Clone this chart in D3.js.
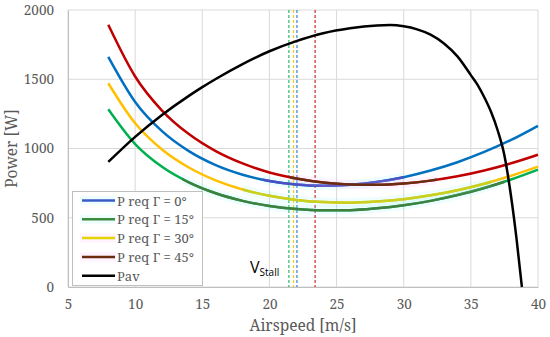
<!DOCTYPE html>
<html>
<head>
<meta charset="utf-8">
<script src="https://cdn.jsdelivr.net/npm/d3@7"></script>
<style>
  body { margin: 0; background: #fff; }
</style>
</head>
<body>
<div id="wrapper"></div>
<script>
// airspeed samples for the P req curves [m/s]
const speeds = [8, 10, 12, 14, 16, 18, 20, 22, 24, 26, 28, 30, 32, 34, 36, 38, 40]
const preq0  = [1661, 1336, 1125, 981, 880, 811, 766, 740, 731, 738, 759, 793, 841, 901, 975, 1062, 1164]
const preq15 = [1283, 1032, 868, 756, 677, 622, 585, 563, 554, 555, 568, 590, 622, 664, 715, 776, 847]
const preq30 = [1471, 1182, 993, 863, 770, 704, 659, 629, 613, 609, 617, 634, 662, 699, 746, 803, 869]
const preq45 = [1893, 1520, 1274, 1104, 981, 892, 827, 783, 754, 740, 738, 747, 768, 799, 841, 893, 955]

// available power
const pavSpeeds = [8, 10, 12, 14, 15, 16, 18, 20, 22, 24, 26, 28, 29, 30, 31, 32, 33, 34, 35, 35.5, 36, 36.5, 37, 37.5, 38, 38.4, 38.8]
const pav       = [903, 1084, 1242, 1380, 1443, 1502, 1610, 1702, 1775, 1832, 1868, 1888, 1891, 1882, 1860, 1822, 1758, 1665, 1530, 1460, 1370, 1265, 1130, 950, 650, 350, 0]

// stall speeds
const stallSpeeds = [21.45, 21.8, 22.05, 23.4]

const seriesNames = ["P req \u0393 = 0\u00b0", "P req \u0393 = 15\u00b0", "P req \u0393 = 30\u00b0", "P req \u0393 = 45\u00b0", "Pav"]
const xTicks = [5, 10, 15, 20, 25, 30, 35, 40]
const yTicks = [0, 500, 1000, 1500, 2000]

const serif = "Noto Serif"
const width = 550, height = 337
const margin = {top: 10, right: 12, bottom: 50, left: 68}

const svg = d3.select("#wrapper").append("svg")
  .attr("width", width)
  .attr("height", height)

const x = d3.scaleLinear().domain([5, 40]).range([margin.left, width - margin.right])
const y = d3.scaleLinear().domain([0, 2000]).range([height - margin.bottom, margin.top])

// grid
svg.append("g").selectAll("line").data(xTicks).enter().append("line")
  .attr("x1", d => x(d)).attr("x2", d => x(d))
  .attr("y1", y(0)).attr("y2", y(2000))
  .attr("stroke", "#d9d9d9").attr("stroke-width", 1)
svg.append("g").selectAll("line").data(yTicks).enter().append("line")
  .attr("x1", x(5)).attr("x2", x(40))
  .attr("y1", d => y(d)).attr("y2", d => y(d))
  .attr("stroke", "#d9d9d9").attr("stroke-width", 1)

// axes
const xAxis = svg.append("g")
  .attr("transform", `translate(0,${y(0)})`)
  .call(d3.axisBottom(x).tickValues(xTicks).tickSize(0).tickPadding(12).tickFormat(d3.format("d")))
xAxis.select(".domain").attr("stroke", "#bfbfbf")
xAxis.selectAll("text").attr("fill", "#595959").attr("font-family", serif).attr("font-size", 13.5)

const yAxis = svg.append("g")
  .attr("transform", `translate(${x(5)},0)`)
  .call(d3.axisLeft(y).tickValues(yTicks).tickSize(0).tickPadding(14).tickFormat(d3.format("d")))
yAxis.select(".domain").attr("stroke", "#bfbfbf")
yAxis.selectAll("text").attr("fill", "#595959").attr("font-family", serif).attr("font-size", 13.5)

svg.append("text")
  .attr("x", (x(5) + x(40)) / 2).attr("y", 331)
  .attr("text-anchor", "middle")
  .attr("fill", "#595959").attr("font-family", serif).attr("font-size", 15.5)
  .text("Airspeed [m/s]")

svg.append("text")
  .attr("transform", `translate(17,${(y(0) + y(2000)) / 2}) rotate(-90)`)
  .attr("text-anchor", "middle")
  .attr("fill", "#595959").attr("font-family", serif).attr("font-size", 15.5)
  .text("Power [W]")

// stall lines
const stallColors = ["#00b050", "#ffc000", "#0070c0", "#c00000"]
svg.append("g").selectAll("line").data(stallSpeeds).enter().append("line")
  .attr("x1", d => x(d)).attr("x2", d => x(d))
  .attr("y1", y(2000)).attr("y2", y(0))
  .attr("stroke", (d, i) => stallColors[i])
  .attr("stroke-width", 1)
  .attr("stroke-dasharray", "3,2")

const line = d3.line()
  .x(d => x(d[0]))
  .y(d => y(d[1]))
  .curve(d3.curveMonotoneX)

const preqs = [preq0, preq15, preq30, preq45]
const baseColors = ["#0070c0", "#00b050", "#ffc000", "#c00000"]
const overColors = ["#4a50c4", "#3f8040", "#c8d020", "#6a2c10"]
const haloColors = ["#7ff0f0", "#7ff0f0", "#7ff0f0", "#ffa0ff"]
const overRanges = [[19.5, 30], [13.5, 37.5], [18, 36.5], [21.5, 32.5]]

const defs = svg.append("defs")
overRanges.forEach((r, i) => {
  defs.append("clipPath").attr("id", "clip" + i)
    .append("rect")
    .attr("x", x(r[0])).attr("width", x(r[1]) - x(r[0]))
    .attr("y", 0).attr("height", height)
})

// base curves
preqs.forEach((vals, i) => {
  svg.append("path")
    .datum(d3.zip(speeds, vals))
    .attr("fill", "none")
    .attr("stroke", baseColors[i])
    .attr("stroke-width", 2.5)
    .attr("d", line)
})

// darker trend overlay with faint halo
preqs.forEach((vals, i) => {
  const g = svg.append("g").attr("clip-path", `url(#clip${i})`)
  g.append("path")
    .datum(d3.zip(speeds, vals))
    .attr("fill", "none")
    .attr("stroke", haloColors[i])
    .attr("stroke-opacity", 0.13)
    .attr("stroke-width", 9)
    .attr("d", line)
  g.append("path")
    .datum(d3.zip(speeds, vals))
    .attr("fill", "none")
    .attr("stroke", overColors[i])
    .attr("stroke-width", 2.5)
    .attr("d", line)
})

svg.append("path")
  .datum(d3.zip(pavSpeeds, pav))
  .attr("fill", "none")
  .attr("stroke", "#000")
  .attr("stroke-width", 2.5)
  .attr("d", line)

// V stall label
const vs = svg.append("text")
  .attr("x", 250).attr("y", 273)
  .attr("font-family", "Open Sans")
  .attr("font-size", 16)
  .attr("fill", "#000")
vs.append("tspan").text("V")
vs.append("tspan").attr("dy", 3).attr("font-size", 10).text("Stall")

// legend
const legend = svg.append("g")
legend.append("rect")
  .attr("x", 72.5).attr("y", 191.5)
  .attr("width", 130).attr("height", 94)
  .attr("fill", "#fff").attr("stroke", "#bfbfbf")

const legendColors = ["#3a5ac8", "#3c8a3c", "#e2d400", "#6a2c0c", "#000"]
const legendHalo = ["#7ff0f0", "#7ff0f0", "#ffa0ff", "#ffa0ff", null]
seriesNames.forEach((name, i) => {
  const ly = 200.5 + i * 18.8
  if (legendHalo[i]) {
    legend.append("line")
      .attr("x1", 80).attr("x2", 116)
      .attr("y1", ly).attr("y2", ly)
      .attr("stroke", legendHalo[i]).attr("stroke-opacity", 0.13)
      .attr("stroke-width", 9)
  }
  legend.append("line")
    .attr("x1", 82).attr("x2", 115)
    .attr("y1", ly).attr("y2", ly)
    .attr("stroke", legendColors[i]).attr("stroke-width", 2.5)
  legend.append("text")
    .attr("x", 117).attr("y", ly + 5)
    .attr("fill", "#595959")
    .attr("font-family", serif)
    .attr("font-size", 13)
    .text(name)
})
</script>
</body>
</html>
